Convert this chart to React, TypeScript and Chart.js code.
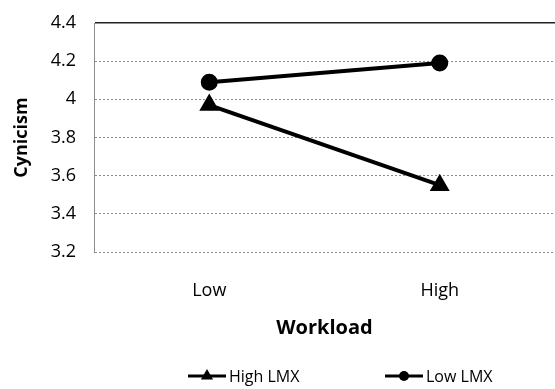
import React, { useEffect, useRef } from "react";
import { Chart, registerables } from "chart.js";

Chart.register(...registerables);

const categories = ["Low", "High"];
const seriesNames = ["High LMX", "Low LMX"];
const highLMX = [3.97, 3.55];
const lowLMX = [4.09, 4.19];
const yTicks = [3.2, 3.4, 3.6, 3.8, 4.0, 4.2, 4.4];
const xTitle = "Workload";
const yTitle = "Cynicism";

const FONT = "'Open Sans', 'Noto Sans', sans-serif";

function drawMarker(ctx: CanvasRenderingContext2D, style: string, x: number, y: number, r: number) {
  ctx.beginPath();
  if (style === "triangle") {
    ctx.moveTo(x, y - r);
    ctx.lineTo(x + r * 0.87, y + r * 0.5);
    ctx.lineTo(x - r * 0.87, y + r * 0.5);
    ctx.closePath();
  } else {
    ctx.arc(x, y, r, 0, Math.PI * 2);
  }
  ctx.fill();
}

const lineLegend = {
  id: "lineLegend",
  afterDraw(chart: any) {
    const ctx = chart.ctx as CanvasRenderingContext2D;
    const y = 376;
    const starts = [188, 385];
    chart.data.datasets.forEach((ds: any, i: number) => {
      const x0 = starts[i];
      const lineW = 38;
      ctx.save();
      ctx.strokeStyle = "#000";
      ctx.fillStyle = "#000";
      ctx.lineWidth = 3;
      ctx.beginPath();
      ctx.moveTo(x0, y);
      ctx.lineTo(x0 + lineW, y);
      ctx.stroke();
      drawMarker(ctx, ds.pointStyle, x0 + lineW / 2, y, ds.pointStyle === "triangle" ? 7 : 5);
      ctx.font = `16px ${FONT}`;
      ctx.textBaseline = "middle";
      ctx.textAlign = "left";
      ctx.fillText(ds.label, x0 + lineW + 3, y + 1);
      ctx.restore();
    });
  },
};

export default function App() {
  const ref = useRef<HTMLCanvasElement | null>(null);
  useEffect(() => {
    document.documentElement.style.overflow = "hidden";
    document.body.style.margin = "0";
    document.body.style.overflow = "hidden";
    const canvas = ref.current;
    if (!canvas) return;
    const chart = new Chart(canvas, {
      type: "line",
      data: {
        labels: categories,
        datasets: [
          {
            label: seriesNames[0],
            data: highLMX,
            borderColor: "#000",
            backgroundColor: "#000",
            borderWidth: 4,
            pointStyle: "triangle",
            pointRadius: 7.5,
            pointHoverRadius: 7.5,
            pointBackgroundColor: "#000",
            pointBorderColor: "#000",
          },
          {
            label: seriesNames[1],
            data: lowLMX,
            borderColor: "#000",
            backgroundColor: "#000",
            borderWidth: 4,
            pointStyle: "circle",
            pointRadius: 6.5,
            pointHoverRadius: 6.5,
            pointBackgroundColor: "#000",
            pointBorderColor: "#000",
          },
        ],
      },
      options: {
        animation: false,
        responsive: false,
        maintainAspectRatio: false,
        layout: { autoPadding: false, padding: { left: 0, right: 0, top: 23, bottom: 44 } },
        plugins: {
          legend: { display: false },
          tooltip: { enabled: false },
        },
        scales: {
          x: {
            type: "category",
            offset: true,
            grid: { display: false, drawTicks: false },
            border: { display: false },
            ticks: { color: "#000", padding: 28, font: { family: FONT, size: 18 } },
            title: {
              display: true,
              text: xTitle,
              color: "#000",
              padding: { top: 0, bottom: 5 },
              font: { family: FONT, size: 20, weight: "bold" },
            },
            afterFit: (axis: any) => {
              axis.height = 93;
              axis.paddingLeft = 0;
              axis.paddingRight = 0;
            },
          },
          y: {
            min: 3.2,
            max: 4.4,
            afterBuildTicks: (axis: any) => {
              axis.ticks = yTicks.map((v) => ({ value: v }));
            },
            grid: {
              drawTicks: true,
              tickLength: 18,
              tickColor: "rgba(0,0,0,0)",
              color: (c: any) => (c.tick && c.tick.value >= 4.39 ? "#222" : "#8c8c8c"),
              lineWidth: (c: any) => (c.tick && c.tick.value >= 4.39 ? 1.5 : 1),
            },
            border: {
              display: true,
              color: "#8c8c8c",
              width: 1,
              dash: (c: any) => (c.tick && c.tick.value >= 4.39 ? [] : [2, 2]),
            },
            ticks: {
              color: "#000",
              padding: 0,
              font: { family: FONT, size: 18 },
              callback: (v: any) => String(Number(Number(v).toFixed(1))),
            },
            title: {
              display: true,
              text: yTitle,
              color: "#000",
              padding: { top: 11, bottom: 0 },
              font: { family: FONT, size: 18, weight: "bold" },
            },
            afterFit: (axis: any) => {
              axis.width = 94;
              axis.paddingTop = 0;
              axis.paddingBottom = 0;
            },
          },
        },
      },
      plugins: [lineLegend],
    });
    return () => chart.destroy();
  }, []);
  return (
    <div style={{ width: 555, height: 389, position: "relative", overflow: "hidden" }}>
      <canvas ref={ref} width={555} height={389} style={{ display: "block" }} />
    </div>
  );
}
